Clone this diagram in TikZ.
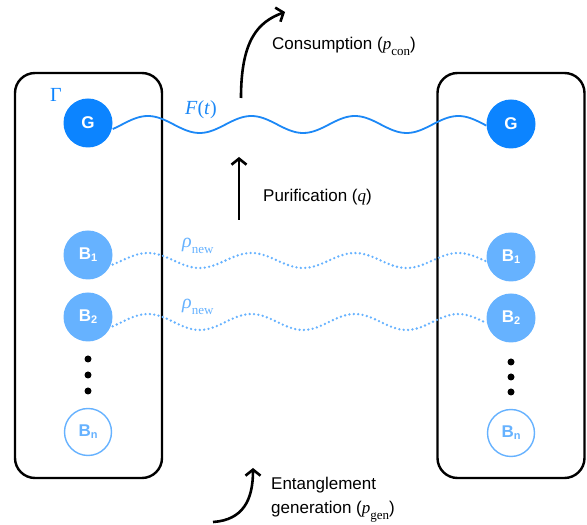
\documentclass[tikz,border=0pt]{standalone}
\usepackage{fontspec}
\setmainfont{Liberation Serif}
\setsansfont{Liberation Sans}
\usetikzlibrary{arrows.meta,calc}
\definecolor{gblue}{RGB}{12,132,255}
\definecolor{gwavec}{RGB}{28,136,246}
\definecolor{lblue}{RGB}{102,178,255}
\newcommand\bsub[1]{\raisebox{-0.12em}{\fontsize{11}{11}\selectfont #1}}
\newcommand\msub[1]{\raisebox{-0.3em}{\fontsize{13}{13}\selectfont\rmfamily #1}}
\begin{document}
\begin{tikzpicture}[x=1pt,y=1pt,
  box/.style={draw=black,line width=2.4pt,rounded corners=20pt,minimum width=147pt,minimum height=405pt,inner sep=0pt},
  gnode/.style={circle,fill=gblue,text=white,minimum size=49pt,inner sep=0pt,font=\fontsize{17}{17}\selectfont\sffamily\bfseries},
  bnode/.style={circle,fill=lblue,text=white,minimum size=49pt,inner sep=0pt,font=\fontsize{17}{17}\selectfont\sffamily\bfseries},
  bnnode/.style={circle,draw=lblue,line width=1.4pt,fill=white,text=lblue,minimum size=47pt,inner sep=0pt,font=\fontsize{17}{17}\selectfont\sffamily\bfseries},
  vdot/.style={circle,fill=black,minimum size=7pt,inner sep=0pt},
  gwave/.style={draw=gwavec,line width=1.8pt},
  bwave/.style={draw=lblue,line width=2.6pt,line cap=round,dash pattern=on 0pt off 4.4pt},
  proc/.style={black,line width=2.6pt,-{Straight Barb[length=6pt,width=15pt]}},
  lab/.style={font=\fontsize{17}{20}\selectfont\sffamily,anchor=base west,inner sep=0pt},
  mlab/.style={font=\fontsize{20}{20}\selectfont\rmfamily,anchor=base west,inner sep=0pt}
]
\useasboundingbox (0,0) rectangle (587,525);
% boxes
\node[box] (boxL) at (88.5,249.5) {};
\node[box] (boxR) at (511,249.5) {};
% nodes
\node[gnode] (GL) at (88,402) {G};
\node[gnode] (GR) at (511,401) {G};
\node[bnode] (B1L) at (88,270) {B\bsub{1}};
\node[bnode] (B1R) at (511,268) {B\bsub{1}};
\node[bnode] (B2L) at (88,208) {B\bsub{2}};
\node[bnode] (B2R) at (511,207) {B\bsub{2}};
\node[bnnode] (BnL) at (88,93) {B\bsub{n}};
\node[bnnode] (BnR) at (511,92) {B\bsub{n}};
\node[vdot] (dL1) at (88,166) {};
\node[vdot] (dL2) at (88,150) {};
\node[vdot] (dL3) at (88,134) {};
\node[vdot] (dR1) at (511,163) {};
\node[vdot] (dR2) at (511,148) {};
\node[vdot] (dR3) at (511,133) {};
% waves
\draw[gwave] let \p1=(GL.east), \p2=(GR.west) in
  plot[variable=\t,domain=\x1:\x2,samples=140] (\t,{(\y1+\y2)/2-1+8.5*sin(3.4783*(\t-122))});
\draw[bwave] let \p1=(B1L.east), \p2=(B1R.west) in
  plot[variable=\t,domain=\x1:\x2,samples=140] (\t,{(\y1+\y2)/2-4.5+7.5*sin(3.4783*(\t-122))});
\draw[bwave] let \p1=(B2L.east), \p2=(B2R.west) in
  plot[variable=\t,domain=\x1:\x2,samples=140] (\t,{(\y1+\y2)/2-4.5+8*sin(3.4783*(\t-122))});
% labels
\node[mlab,text=gblue] (gam) at (50,423) {Γ};
\node[mlab,text=gwavec] (ft) at (185,410) {\textit{F}(\textit{t})};
\node[mlab,text=lblue] (rho1) at (182,277) {\textit{ρ}\msub{new}};
\node[mlab,text=lblue] (rho2) at (182,216) {\textit{ρ}\msub{new}};
% process arrows
\coordinate (cs) at (241,427);
\coordinate (ce) at (285,513);
\draw[proc] (cs) .. controls (241,485) and (258,503) .. (ce);
\node[lab] (cons) at (272,475) {Consumption ({\rmfamily\itshape p}\msub{con})};
\coordinate (ps) at (239,305);
\coordinate (pe) at (239,368);
\draw[proc] (ps) -- (pe);
\node[lab] (puri) at (263,323) {Purification ({\rmfamily\itshape q})};
\coordinate (es) at (213,3);
\coordinate (ee) at (253,57);
\draw[proc] (es) .. controls (243,5) and (253,25) .. (ee);
\node[lab] (ent1) at (271,35) {Entanglement};
\node[lab] (ent2) at (271,11) {generation ({\rmfamily\itshape p}\msub{gen})};
\end{tikzpicture}
\end{document}
